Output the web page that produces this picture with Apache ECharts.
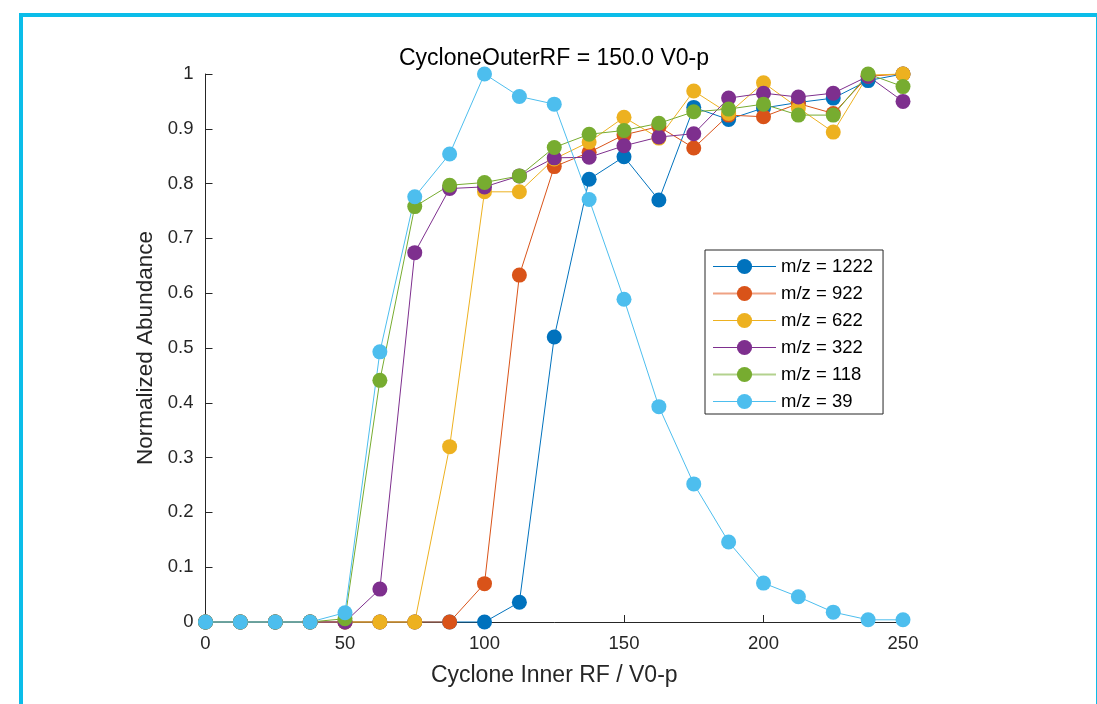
<!DOCTYPE html>
<html>
<head>
<meta charset="utf-8">
<script src="https://cdn.jsdelivr.net/npm/echarts@6/dist/echarts.min.js"></script>
<style>
html,body{margin:0;padding:0;width:1097px;height:704px;overflow:hidden;background:#fff;}
#frame{position:absolute;left:19px;top:13px;width:1081px;height:720px;box-sizing:border-box;border:4px solid #0bbde9;}
#chart{position:absolute;left:0;top:0;width:1097px;height:704px;}
</style>
</head>
<body>
<div id="frame"></div>
<div id="chart"></div>
<script>
const xValues = [0,12.5,25,37.5,50,62.5,75,87.5,100,112.5,125,137.5,150,162.5,175,187.5,200,212.5,225,237.5,250];
const seriesNames = ['m/z = 1222','m/z = 922','m/z = 622','m/z = 322','m/z = 118','m/z = 39'];
const mz1222 = [0,0,0,0,0,0,0,0,0,0.036,0.52,0.808,0.849,0.770,0.939,0.917,0.938,0.948,0.956,0.988,1.0];
const mz922  = [0,0,0,0,0,0,0,0,0.070,0.633,0.831,0.857,0.889,0.904,0.865,0.925,0.922,0.946,0.928,0.996,1.0];
const mz622  = [0,0,0,0,0,0,0,0.320,0.785,0.785,0.845,0.876,0.921,0.883,0.969,0.928,0.984,0.938,0.894,0.998,1.0];
const mz322  = [0,0,0,0,0,0.060,0.674,0.791,0.794,0.814,0.847,0.848,0.869,0.885,0.891,0.956,0.965,0.958,0.965,0.996,0.950];
const mz118  = [0,0,0,0,0.006,0.441,0.758,0.797,0.802,0.814,0.866,0.890,0.897,0.910,0.931,0.936,0.945,0.925,0.925,1.0,0.977];
const mz39   = [0,0,0,0,0.017,0.493,0.776,0.854,1.0,0.959,0.945,0.771,0.589,0.393,0.252,0.146,0.071,0.046,0.018,0.004,0.004];
const xTicks = [0,50,100,150,200,250];
const yTicks = [0,0.1,0.2,0.3,0.4,0.5,0.6,0.7,0.8,0.9,1];
const colors = ['#0072BD','#D95319','#EDB120','#7E2F8E','#77AC30','#4DBEEE'];
const legendLineColors = ['#0072BD','#EFA283','#EDB120','#7E2F8E','#B3D28E','#4DBEEE'];
const legendLineWidths = [1,2,1,1,2,1];
const allData = [mz1222, mz922, mz622, mz322, mz118, mz39];

const font = '"Liberation Sans", Arial, Helvetica, sans-serif';
const chart = echarts.init(document.getElementById('chart'), null, {renderer:'canvas'});
chart.setOption({
  animation:false,
  backgroundColor:'transparent',
  title:{text:'CycloneOuterRF = 150.0 V0-p', left:549, top:42, textAlign:'center',
    textStyle:{fontFamily:font, fontSize:23, fontWeight:'normal', color:'#000'}},
  grid:{left:205.5, right:194, top:74, bottom:82, containLabel:false},
  legend:{orient:'vertical', left:705, top:250, backgroundColor:'#fff', borderColor:'#262626', borderWidth:1,
    padding:[7,10,3,7], itemWidth:63, itemHeight:19, itemGap:8,
    lineStyle:{width:1},
    textStyle:{fontFamily:font, fontSize:18.5, color:'#000'},
    data:seriesNames.map(function(n,i){
      return {name:n, lineStyle:{color:legendLineColors[i], width:legendLineWidths[i]}};
    })},
  xAxis:{type:'value', min:0, max:250, interval:50,
    name:'Cyclone Inner RF / V0-p', nameLocation:'middle', nameGap:42,
    nameTextStyle:{fontFamily:font, fontSize:23, color:'#262626'},
    axisLine:{show:true, onZero:false, lineStyle:{color:'#262626', width:1}},
    axisTick:{show:true, inside:true, length:7, customValues:xTicks, lineStyle:{color:'#262626'}},
    axisLabel:{customValues:xTicks, margin:12, fontFamily:font, fontSize:18.5, color:'#262626'},
    splitLine:{show:false}},
  yAxis:{type:'value', min:0, max:1, interval:0.1,
    name:'Normalized Abundance', nameLocation:'middle', nameGap:47,
    nameTextStyle:{fontFamily:font, fontSize:22.5, color:'#262626'},
    axisLine:{show:true, onZero:false, lineStyle:{color:'#262626', width:1}},
    axisTick:{show:true, inside:true, length:7, customValues:yTicks, lineStyle:{color:'#262626'}},
    axisLabel:{customValues:yTicks, margin:12, fontFamily:font, fontSize:18.5, color:'#262626',
      formatter:function(v){ return (v===0||v===1) ? String(v) : v.toFixed(1); }},
    splitLine:{show:false}},
  series: allData.map(function(d,i){
    return {name:seriesNames[i], type:'line', symbol:'circle', symbolSize:15, showSymbol:true,
      data:d.map(function(v,j){return [xValues[j], v];}),
      itemStyle:{color:colors[i]}, lineStyle:{color:colors[i], width:1},
      emphasis:{disabled:true}, clip:false};
  })
});
</script>
</body>
</html>
